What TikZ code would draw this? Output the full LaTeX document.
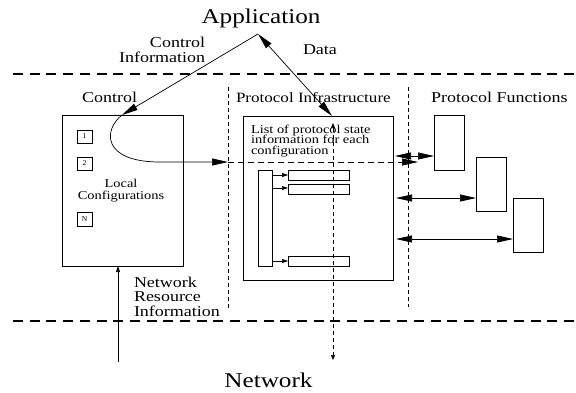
\documentclass[tikz,border=0pt]{standalone}
\usepackage{fontspec}
\setmainfont{Liberation Serif}
\usetikzlibrary{arrows.meta}
\newcommand{\hs}[1]{\scalebox{1.2}[1]{#1}}
\newcommand{\Lstk}[2]{\scalebox{1.2}[1]{\vtop{\baselineskip=#1\lineskiplimit=-100pt\lineskip=0pt\halign{##\hfil\cr#2\crcr}}}}
\newcommand{\Rstk}[2]{\scalebox{1.2}[1]{\vtop{\baselineskip=#1\lineskiplimit=-100pt\lineskip=0pt\halign{\hfil##\cr#2\crcr}}}}
\newcommand{\Cstk}[2]{\scalebox{1.2}[1]{\vtop{\baselineskip=#1\lineskiplimit=-100pt\lineskip=0pt\halign{\hfil##\hfil\cr#2\crcr}}}}
\begin{document}
\begin{tikzpicture}[x=1pt,y=-1pt,
  box/.style={draw, line width=0.7pt, inner sep=0pt, outer sep=0pt, anchor=north west},
  txt/.style={inner sep=0pt, outer sep=0pt},
  big/.style={font=\fontsize{21}{21}\selectfont},
  mid/.style={font=\fontsize{15}{15}\selectfont},
  sml/.style={font=\fontsize{12}{12}\selectfont},
  tiny/.style={font=\fontsize{7.5}{8}\selectfont},
  layer/.style={line width=1.4pt, dash pattern=on 10pt off 6.7pt},
  divider/.style={line width=0.6pt, dash pattern=on 4pt off 3pt},
  bigarrow/.style={line width=0.7pt, -{Triangle[length=16pt,width=7pt]}},
  bigboth/.style={line width=0.7pt, {Triangle[length=16pt,width=7pt]}-{Triangle[length=16pt,width=7pt]}},
  smallarrow/.style={line width=0.6pt, -{Triangle[length=6pt,width=4pt]}},
  tinyboth/.style={line width=0.6pt, dash pattern=on 4pt off 3pt, {Triangle[length=5pt,width=4pt]}-{Triangle[length=5pt,width=4pt]}}
]
\useasboundingbox (0,0) rectangle (576,392);

% layer separators
\coordinate (t1) at (13,74); \coordinate (t2) at (576,74);
\coordinate (b1) at (13,321); \coordinate (b2) at (576,321);
\draw[layer] (t1) -- (t2);
\draw[layer] (b1) -- (b2);

% vertical dividers
\coordinate (v1a) at (228,87); \coordinate (v1b) at (228,308);
\coordinate (v2a) at (408,87); \coordinate (v2b) at (408,307);
\draw[divider] (v1a) -- (v1b);
\draw[divider] (v2a) -- (v2b);

% texts
\node[txt,big,anchor=base] (app) at (261,23) {\hs{Application}};
\node[txt,big,anchor=base] (net) at (268.5,387) {\hs{Network}};
\node[txt,mid,anchor=base east] (ctrlinfo) at (205,47) {\Rstk{15pt}{Control\cr Information}};
\node[txt,mid,anchor=base west] (data) at (303,54) {\hs{Data}};
\node[txt,mid,anchor=base west] (ctrllab) at (82,102) {\hs{Control}};
\node[txt,font=\fontsize{14.2}{15}\selectfont,anchor=base west] (pilab) at (236,102) {\hs{Protocol Infrastructure}};
\node[txt,mid,anchor=base west] (pflab) at (431,102) {\hs{Protocol Functions}};
\node[txt,mid,anchor=base west] (nri) at (134,287) {\Lstk{14.5pt}{Network\cr Resource\cr Information}};

% control box
\node[box, minimum width=121pt, minimum height=151pt] (ctrl) at (62,115) {};
\node[box, minimum width=15pt, minimum height=13pt, tiny] (c1) at (77,130) {1};
\node[box, minimum width=15pt, minimum height=13pt, tiny] (c2) at (77,157) {2};
\node[box, minimum width=15pt, minimum height=14pt, tiny] (cn) at (77,212) {N};
\node[txt,sml,anchor=base] (lc) at (121,187) {\Cstk{12pt}{Local\cr Configurations}};

% protocol infrastructure box
\node[box, minimum width=150pt, minimum height=164pt] (proto) at (243,116) {};
\node[txt,sml,anchor=base west] (list) at (251,133) {\Lstk{10.6pt}{List of protocol state\cr information for each\cr configuration}};
\node[box, minimum width=14pt, minimum height=96pt] (tall) at (258,170) {};
\node[box, minimum width=61pt, minimum height=10pt] (r1) at (288,170) {};
\node[box, minimum width=61pt, minimum height=10pt] (r2) at (288,184) {};
\node[box, minimum width=61pt, minimum height=10pt] (r3) at (288,256) {};
\draw[smallarrow] (tall.east |- 0,175) -- (r1.west |- 0,175);
\draw[smallarrow] (tall.east |- 0,188) -- (r2.west |- 0,188);
\draw[smallarrow] (tall.east |- 0,261) -- (r3.west |- 0,261);

% protocol functions
\node[box, minimum width=30pt, minimum height=55pt] (fa) at (434,115) {};
\node[box, minimum width=30pt, minimum height=54pt] (fb) at (476,157) {};
\node[box, minimum width=30pt, minimum height=54pt] (fc) at (513,198) {};

\draw[bigboth] ([xshift=2pt]proto.east |- 0,156) -- (fa.west |- 0,156);
\draw[bigboth] ([xshift=3pt]proto.east |- 0,198) -- (fb.west |- 0,198);
\draw[bigboth] ([xshift=3pt]proto.east |- 0,239) -- (fc.west |- 0,239);

% application arrows
\coordinate (apex) at (258,34);
\coordinate (ctip) at (122,115);
\draw[bigarrow] (apex) -- (ctip);
\draw[bigboth] (apex) -- (332,0 |- proto.north);

% curved control path
\coordinate (cross) at (228,162);
\coordinate (dend) at (418,162);
\draw[bigarrow] (ctip) .. controls (103,130) and (102,162) .. (160,162) -- (cross);
\draw[line width=0.7pt, dash pattern=on 6pt off 4pt, -{Triangle[length=16pt,width=7pt]}] (cross) -- (dend);

% data to network
\coordinate (dtop) at (333,123);
\coordinate (dbot) at (333,360);
\draw[tinyboth] (dtop) -- (dbot);

% network resource information
\coordinate (nrbot) at (118,362);
\draw[smallarrow] (nrbot) -- (ctrl.south -| 118,0);
\end{tikzpicture}
\end{document}
